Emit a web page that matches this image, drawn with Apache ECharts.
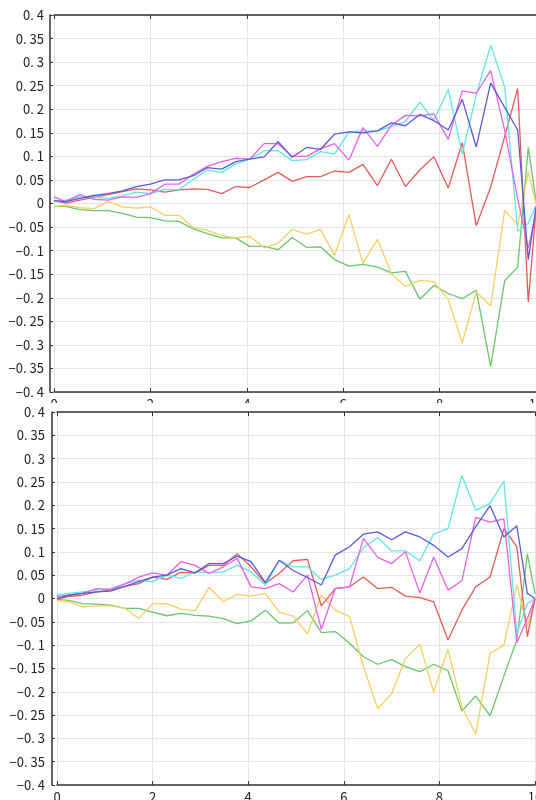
<!DOCTYPE html>
<html>
<head>
<meta charset="utf-8">
<script src="https://cdn.jsdelivr.net/npm/echarts@6/dist/echarts.min.js"></script>
<style>
html,body{margin:0;padding:0;background:#fff;width:536px;height:800px;overflow:hidden;}
#top{position:absolute;left:0;top:0;width:536px;height:403px;}
#bot{position:absolute;left:0;top:403px;width:536px;height:397px;}
</style>
</head>
<body>
<div id="top"></div>
<div id="bot"></div>
<script>
// shared x sample positions
const xs = [0, 0.24, 0.535, 0.83, 1.12, 1.42, 1.71, 2.0, 2.3, 2.59, 2.89, 3.18, 3.48, 3.77, 4.06, 4.36, 4.65, 4.94,
  5.24, 5.53, 5.82, 6.12, 6.41, 6.71, 7.0, 7.29, 7.59, 7.88, 8.18, 8.47, 8.76, 9.06, 9.35, 9.62, 9.84, 10.0];

// top panel
const topCyan = [0.004, 0.007, 0.014, 0.014, 0.011, 0.016, 0.024, 0.021, 0.03, 0.029, 0.051, 0.071, 0.066, 0.084, 0.094, 0.112, 0.112, 0.091,
  0.093, 0.11, 0.105, 0.152, 0.154, 0.154, 0.163, 0.174, 0.215, 0.176, 0.242, 0.105, 0.23, 0.336, 0.248, -0.059, -0.042, -0.005];
const topMagenta = [0.014, 0.004, 0.019, 0.009, 0.007, 0.014, 0.013, 0.021, 0.041, 0.041, 0.062, 0.079, 0.089, 0.096, 0.094, 0.127, 0.127, 0.1,
  0.1, 0.116, 0.127, 0.092, 0.161, 0.121, 0.166, 0.187, 0.186, 0.19, 0.136, 0.239, 0.234, 0.282, 0.155, 0.01, -0.095, -0.02];
const topBlue = [0.006, 0.004, 0.011, 0.017, 0.021, 0.027, 0.036, 0.041, 0.05, 0.05, 0.059, 0.076, 0.073, 0.089, 0.094, 0.099, 0.131, 0.098,
  0.119, 0.115, 0.147, 0.152, 0.15, 0.154, 0.171, 0.165, 0.189, 0.176, 0.156, 0.221, 0.12, 0.256, 0.204, 0.156, -0.119, -0.007];
const topRed = [0.006, 0.001, 0.007, 0.013, 0.019, 0.025, 0.031, 0.029, 0.024, 0.029, 0.031, 0.03, 0.021, 0.036, 0.034, 0.05, 0.066, 0.047,
  0.057, 0.057, 0.069, 0.066, 0.083, 0.038, 0.094, 0.036, 0.071, 0.099, 0.033, 0.129, -0.047, 0.035, 0.142, 0.244, -0.209, -0.014];
const topYellow = [-0.006, -0.004, -0.009, -0.011, 0.004, -0.007, -0.01, -0.007, -0.025, -0.025, -0.051, -0.057, -0.068, -0.073, -0.07, -0.094, -0.084, -0.055,
  -0.065, -0.055, -0.11, -0.023, -0.127, -0.076, -0.149, -0.176, -0.163, -0.166, -0.204, -0.296, -0.188, -0.217, -0.014, -0.046, 0.067, 0.0];
const topGreen = [-0.006, -0.006, -0.013, -0.015, -0.015, -0.021, -0.029, -0.03, -0.037, -0.038, -0.054, -0.064, -0.073, -0.073, -0.091, -0.091, -0.098, -0.072,
  -0.093, -0.092, -0.119, -0.133, -0.129, -0.135, -0.147, -0.144, -0.203, -0.174, -0.191, -0.202, -0.184, -0.346, -0.164, -0.135, 0.119, 0.005];

// bottom panel
const botCyan = [0.007, 0.011, 0.014, 0.018, 0.021, 0.032, 0.039, 0.036, 0.05, 0.043, 0.057, 0.055, 0.057, 0.071, 0.057, 0.029, 0.082, 0.068,
  0.068, 0.041, 0.05, 0.064, 0.109, 0.131, 0.102, 0.102, 0.081, 0.138, 0.15, 0.264, 0.189, 0.204, 0.252, -0.075, -0.011, 0.0];
const botMagenta = [0.004, 0.007, 0.011, 0.021, 0.019, 0.031, 0.046, 0.055, 0.05, 0.079, 0.071, 0.054, 0.068, 0.086, 0.025, 0.021, 0.032, 0.014,
  0.05, -0.066, 0.021, 0.025, 0.129, 0.088, 0.075, 0.1, 0.012, 0.089, 0.018, 0.038, 0.174, 0.164, 0.171, -0.095, -0.043, 0.0];
const botBlue = [-0.001, 0.007, 0.011, 0.014, 0.016, 0.026, 0.036, 0.046, 0.05, 0.064, 0.055, 0.075, 0.075, 0.091, 0.079, 0.034, 0.082, 0.06,
  0.045, 0.029, 0.093, 0.111, 0.138, 0.143, 0.126, 0.143, 0.132, 0.114, 0.089, 0.107, 0.154, 0.199, 0.132, 0.156, 0.011, 0.0];
const botRed = [0, 0.004, 0.007, 0.014, 0.018, 0.026, 0.032, 0.046, 0.041, 0.056, 0.055, 0.071, 0.071, 0.096, 0.068, 0.032, 0.054, 0.081,
  0.084, -0.016, 0.021, 0.025, 0.046, 0.021, 0.024, 0.005, 0.002, -0.007, -0.089, -0.025, 0.025, 0.046, 0.15, 0.111, -0.082, 0.0];
const botYellow = [-0.004, -0.007, -0.018, -0.016, -0.016, -0.021, -0.043, -0.011, -0.011, -0.023, -0.026, 0.024, -0.007, 0.009, 0.005, 0.011, -0.029, -0.038,
  -0.076, 0.007, -0.025, -0.039, -0.146, -0.236, -0.204, -0.129, -0.098, -0.2, -0.109, -0.232, -0.291, -0.118, -0.1, 0.029, -0.06, 0.0];
const botGreen = [-0.002, -0.004, -0.011, -0.012, -0.014, -0.021, -0.021, -0.029, -0.037, -0.032, -0.036, -0.038, -0.043, -0.054, -0.048, -0.025, -0.053, -0.052,
  -0.026, -0.073, -0.071, -0.096, -0.125, -0.141, -0.131, -0.146, -0.157, -0.141, -0.155, -0.241, -0.209, -0.252, -0.166, -0.089, 0.096, 0.01];

const colors = {
  green: '#6cc46c', yellow: '#f5d060', red: '#e55a5a',
  cyan: '#5ee6e6', magenta: '#e860e8', blue: '#5a5ad8'
};
const FONT = '"Noto Sans CJK JP", "Noto Sans", sans-serif';

function fmtY(v) {
  if (Math.abs(v) < 1e-9) return '0';
  let s = Math.abs(v).toFixed(2).replace(/0+$/, '').replace(/\.$/, '');
  s = s.replace('.', '. ');
  return (v < 0 ? '\u2212' : '') + s;
}

function mk(vals, color) {
  return {
    type: 'line', symbol: 'none', animation: false,
    data: xs.map((x, i) => [x, vals[i]]),
    lineStyle: { color: color, width: 1.3 },
    itemStyle: { color: color }
  };
}

function option(grid, yOffset, labelMargin, sets) {
  const axisLine = { show: true, onZero: false, lineStyle: { color: '#333', width: 1.5 } };
  grid.outerBoundsMode = 'none';
  grid.containLabel = false;
  return {
    backgroundColor: '#fff',
    animation: false,
    grid: grid,
    xAxis: [{
      type: 'value', min: 0, max: 10, interval: 2, position: 'bottom',
      axisLine: axisLine,
      axisTick: { show: true, inside: true, length: 4, lineStyle: { color: '#333' } },
      splitLine: { show: true, lineStyle: { color: '#e4e4e4', width: 1 } },
      axisLabel: { fontSize: 13, color: '#222', margin: 6, fontFamily: FONT }
    }, {
      type: 'value', min: 0, max: 10, interval: 2, position: 'top',
      axisLine: axisLine,
      axisTick: { show: true, inside: true, length: 4, lineStyle: { color: '#333' } },
      splitLine: { show: false },
      axisLabel: { show: false }
    }],
    yAxis: {
      type: 'value', min: -0.4, max: 0.4, interval: 0.05, offset: yOffset,
      axisLine: axisLine,
      axisTick: { show: true, inside: true, length: 3, lineStyle: { color: '#333' } },
      splitLine: { show: true, lineStyle: { color: '#e4e4e4', width: 1 } },
      axisLabel: { fontSize: 13, color: '#222', margin: labelMargin, fontFamily: FONT, formatter: fmtY }
    },
    series: sets
  };
}

const topChart = echarts.init(document.getElementById('top'), null, { renderer: 'canvas' });
topChart.setOption(option({ left: 54, right: 0, top: 15, bottom: 11 }, 4, 6, [
  mk(topGreen, colors.green), mk(topYellow, colors.yellow), mk(topRed, colors.red),
  mk(topCyan, colors.cyan), mk(topMagenta, colors.magenta), mk(topBlue, colors.blue)
]));

const botChart = echarts.init(document.getElementById('bot'), null, { renderer: 'canvas' });
botChart.setOption(option({ left: 57, right: 1, top: 9, bottom: 15 }, 5, 7, [
  mk(botGreen, colors.green), mk(botYellow, colors.yellow), mk(botRed, colors.red),
  mk(botCyan, colors.cyan), mk(botMagenta, colors.magenta), mk(botBlue, colors.blue)
]));
</script>
</body>
</html>
